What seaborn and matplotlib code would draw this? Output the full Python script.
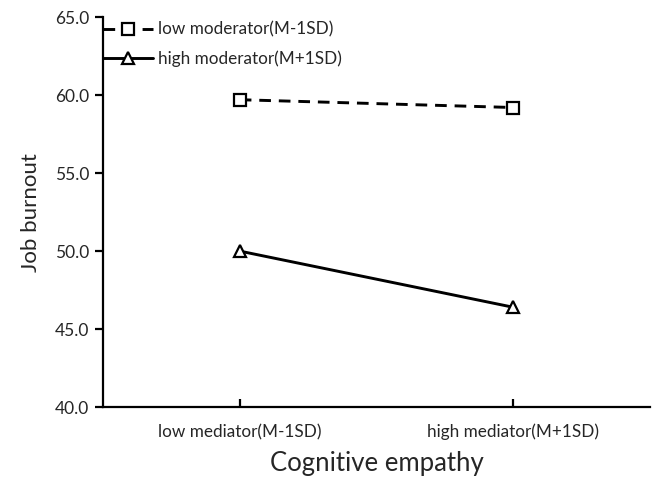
import matplotlib
matplotlib.use("Agg")
import matplotlib.pyplot as plt
import seaborn as sns
import pandas as pd

categories = ["low mediator(M-1SD)", "high mediator(M+1SD)"]
groups = ["low moderator(M-1SD)", "high moderator(M+1SD)"]
low_moderator = [59.7, 59.2]
high_moderator = [50.0, 46.4]
yticks = [40, 45, 50, 55, 60, 65]

df = pd.DataFrame({
    "x": categories * 2,
    "value": low_moderator + high_moderator,
    "group": [groups[0]] * 2 + [groups[1]] * 2,
})

sns.set_theme(style="white")
plt.rcParams["font.family"] = ["Lato", "DejaVu Sans"]

fig = plt.figure(figsize=(6.6, 4.79), dpi=100)
ax = fig.add_axes([0.156, 0.150, 0.829, 0.8145])

sns.lineplot(data=df, x="x", y="value", hue="group", style="group",
             hue_order=groups, style_order=groups,
             palette=["black", "black"],
             dashes={groups[0]: (4, 2.7), groups[1]: ""},
             markers={groups[0]: "s", groups[1]: "^"},
             markersize=8, linewidth=2.1, markeredgewidth=1.6,
             markerfacecolor="white", markeredgecolor="black",
             ax=ax, sort=False)

ax.set_xlim(-0.5, 1.5)
ax.set_ylim(40, 65)
ax.set_yticks(yticks)
ax.set_yticklabels([f"{v:.1f}" for v in yticks], fontsize=12.5)
ax.set_xticks([0, 1])
ax.set_xticklabels(categories, fontsize=12.3)
ax.set_xlabel("Cognitive empathy", fontsize=18.5, labelpad=8)
ax.set_ylabel("Job burnout", fontsize=16, labelpad=10)

for s in ["top", "right"]:
    ax.spines[s].set_visible(False)
for s in ["left", "bottom"]:
    ax.spines[s].set_linewidth(1.6)
    ax.spines[s].set_color("black")

ax.tick_params(axis="y", direction="out", length=6, width=1.6, color="black", left=True, pad=4)
ax.tick_params(axis="x", direction="in", length=6, width=1.6, color="black", bottom=True, pad=12)

leg = ax.legend(loc="upper left", bbox_to_anchor=(0.0, 0.988), frameon=False,
                fontsize=12.3, handlelength=2.9, handletextpad=0.35,
                borderaxespad=0, borderpad=0, labelspacing=0.75)
for line in leg.get_lines():
    line.set_markerfacecolor("white")
    line.set_markeredgecolor("black")

fig.savefig("out.png", dpi=100)
